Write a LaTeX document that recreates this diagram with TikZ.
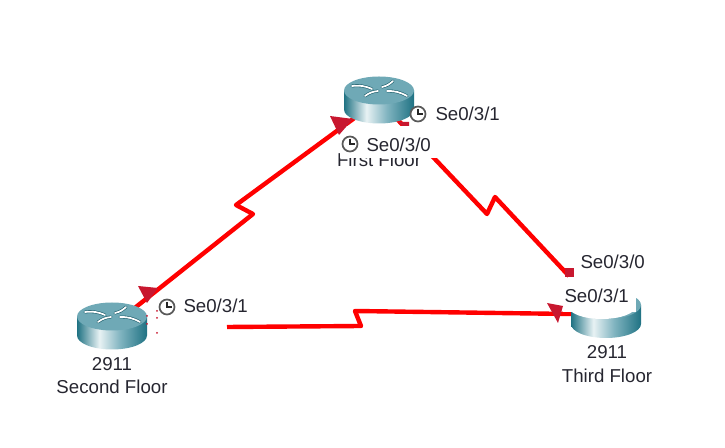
\documentclass[tikz,border=0pt]{standalone}
\usepackage{fontspec}
\setmainfont{Liberation Sans}
\definecolor{linkred}{HTML}{FF0000}
\definecolor{tipred}{HTML}{C8172F}
\definecolor{routertop}{HTML}{6FA9B6}
\definecolor{routerdark}{HTML}{1F7283}
\definecolor{routerlite}{HTML}{E8F2F4}
\definecolor{routermid}{HTML}{7FB3BF}
\definecolor{labelgrey}{HTML}{262630}
\pgfdeclarehorizontalshading{routerbody}{100bp}{color(0bp)=(routerdark); color(25bp)=(routerdark); color(41bp)=(routerlite); color(56bp)=(routermid); color(75bp)=(routerdark); color(100bp)=(routerdark)}
\tikzset{
every picture/.style={
line width=0.75pt
},
link/.style={draw=linkred, line width=3.3pt, line join=round},
tip/.style={fill=tipred},
portlabel/.style={font=\fontsize{14}{16}\selectfont, text=labelgrey, inner sep=0pt, anchor=west},
devlabel/.style={font=\fontsize{14}{16}\selectfont, text=labelgrey, inner sep=0pt},
router/.pic={
  \node (-c) at (0,0) {};
  \shade[shading=routerbody] (-35,-9.5) -- (-35,9.5) arc[start angle=180, end angle=0, x radius=35, y radius=14] -- (35,-9.5) -- cycle;
  \fill[routertop] (0,-9.5) ellipse [x radius=35, y radius=14];
  \foreach \a/\b/\c/\d in {-27/-14/-7/-11, 14/-19/3/-13, -14/-4/-1/-9, 8/-9/28/-4} {
    \draw[routerdark!80!black, line width=2.2pt, line cap=round] (\a,\b) to[bend left=15] (\c,\d);
    \draw[white, line width=1.3pt, line cap=round] (\a,\b) to[bend left=15] (\c,\d);
  }
},
clock/.pic={
  \draw[fill=white, draw=black!65, line width=1.3pt] (0,0) circle (7.5);
  \draw[black!85, line width=0.9pt] (0,-5) -- (0,0) -- (4.5,0);
}
}

\begin{document}
\begin{tikzpicture}[x=0.75pt, y=-0.75pt]
\useasboundingbox (0,0) rectangle (725,448);

\node [devlabel] (fname) at (379,160) {First Floor};

\coordinate (sout) at (227,327);
\coordinate (tin) at (569,276);
\coordinate (z1a) at (253,214);
\coordinate (z1b) at (236,205);
\coordinate (z2a) at (487,214);
\coordinate (z2b) at (495,197);
\coordinate (z3a) at (361,326);
\coordinate (z3b) at (355,311);
\coordinate (scentre) at (112,326);
\coordinate (fcentre) at (379,100);
\coordinate (tcentre) at (606,314.5);

\draw [link] (scentre) -- (z1a) -- (z1b) -- (fcentre);
\draw [link] (fcentre) -- (z2a) -- (z2b) -- (tin);
\draw [link] (sout) -- (z3a) -- (z3b) -- (tcentre);

% white boxes of the labels hide the links here
\fill[white] (340,126) rectangle (440,158);

\pic (second) at (scentre) {router};
\pic (first) at (fcentre) {router};
\pic (third) at (tcentre) {router};

\fill[white] (602,306) ellipse [x radius=34, y radius=13];
\fill[white] (563,285) rectangle (636,312);
\fill[white] (636,285) rectangle (642,298);

\fill[tip] (330,116) -- (353,119) -- (339,135) -- cycle;
\fill[tip] (398,122) -- (409,122) -- (409,126) -- (402,126) -- cycle;
\fill[tip] (138,286) -- (158,288) -- (147,303) -- cycle;
\fill[tip] (547,303) -- (563,306) -- (558,323) -- cycle;
\fill[tip] (565,268) rectangle (574,277);
\foreach \x/\y in {157/311, 157/318, 147/316, 147/324, 157/333} \fill[tipred] (\x,\y) circle (1);

\pic at (167,307) {clock};
\pic at (418,114) {clock};
\pic at (350,144) {clock};

\node [portlabel] (s31) at (183,306) {Se0/3/1};
\node [portlabel] (f31) at (435,114) {Se0/3/1};
\node [portlabel] (f30) at (366,145) {Se0/3/0};
\node [portlabel] (t30) at (580,262) {Se0/3/0};
\node [portlabel] (t31) at (564,296) {Se0/3/1};

\node [devlabel] (smodel) at (112,364) {2911};
\node [devlabel] (sname) at (112,387) {Second Floor};
\node [devlabel] (tmodel) at (607,352) {2911};
\node [devlabel] (tname) at (607,376) {Third Floor};

\end{tikzpicture}
\end{document}
